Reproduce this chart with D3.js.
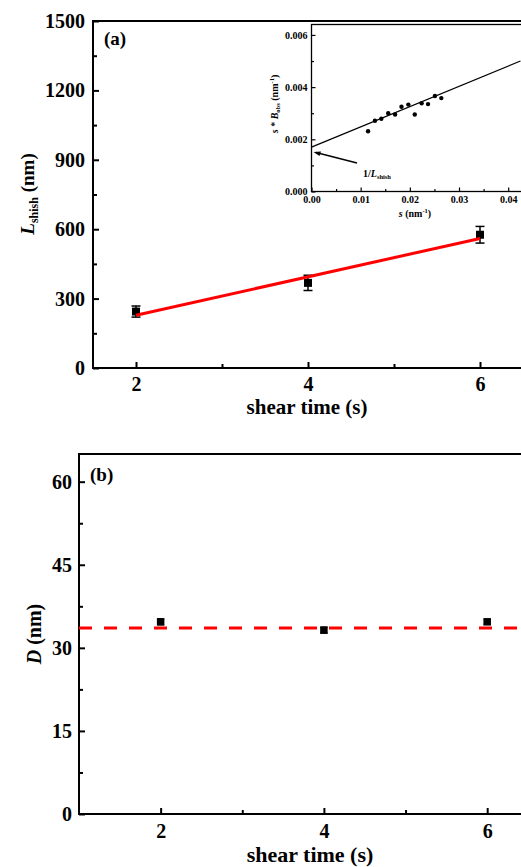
<!DOCTYPE html>
<html>
<head>
<meta charset="utf-8">
<script src="https://cdn.jsdelivr.net/npm/d3@7"></script>
<style>
  body { margin:0; background:#fff; }
  svg { display:block; font-family:"Liberation Serif","Times New Roman",serif; font-weight:bold; }
  .axis path, .axis line { stroke:#000; }
  .axis text { fill:#000; font-family:"Liberation Serif",serif; font-weight:bold; }
</style>
</head>
<body>
<div id="chart"></div>
<script>
// panel (a): shish length vs shear time
var shearTimes = [2, 4, 6]
var lengthVals = [244, 368, 576]
var lengthErr = [24, 33, 36]
var lengthFit = [[2, 228], [6, 560]]

// inset: s * B_obs vs s
var insetS = [0.0115, 0.0129, 0.0142, 0.0156, 0.0170, 0.0183, 0.0197, 0.0210, 0.0224, 0.0237, 0.0251, 0.0264]
var insetB = [0.00231, 0.00271, 0.00279, 0.00300, 0.00295, 0.00325, 0.00333, 0.00295, 0.00338, 0.00335, 0.00366, 0.00358]
var insetFit = [[0, 0.00170], [0.0425, 0.00500]]

// panel (b): long period D
var dVals = [34.7, 33.2, 34.7]
var dErr = [0.5, 0.5, 0.4]
var dMean = 33.6

var yTicksA = [0, 300, 600, 900, 1200, 1500]
var yTicksB = [0, 15, 30, 45, 60]
var insetXTicks = [0, 0.01, 0.02, 0.03, 0.04]
var insetYTicks = [0, 0.002, 0.004, 0.006]

var W = 521, H = 867
var svg = d3.select("#chart").append("svg").attr("width", W).attr("height", H)

function frame(g, x, y, sw) {
  var x0 = x.range()[0], x1 = x.range()[1], y0 = y.range()[0], y1 = y.range()[1]
  g.append("rect").attr("x", x0).attr("y", y1).attr("width", x1 - x0).attr("height", y0 - y1)
    .attr("fill", "none").attr("stroke", "#000").attr("stroke-width", sw)
}

function axes(g, x, y, o) {
  var y0 = y.range()[0], x0 = x.range()[0]
  // minor ticks
  g.append("g").attr("class", "axis").attr("transform", "translate(0," + y0 + ")")
    .call(d3.axisBottom(x).tickValues(o.xMinor).tickFormat("").tickSize(-o.minor).tickSizeOuter(0))
    .call(s => s.select(".domain").remove())
    .selectAll("line").attr("stroke-width", o.sw)
  g.append("g").attr("class", "axis").attr("transform", "translate(" + x0 + ",0)")
    .call(d3.axisLeft(y).tickValues(o.yMinor).tickFormat("").tickSize(-o.minor).tickSizeOuter(0))
    .call(s => s.select(".domain").remove())
    .selectAll("line").attr("stroke-width", o.sw)
  // major ticks
  var xa = g.append("g").attr("class", "axis").attr("transform", "translate(0," + y0 + ")")
    .call(d3.axisBottom(x).tickValues(o.xTicks).tickFormat(o.xFmt).tickSize(-o.major).tickSizeOuter(0).tickPadding(o.xPad))
  xa.select(".domain").remove()
  xa.selectAll("line").attr("stroke-width", o.sw)
  xa.selectAll("text").attr("font-size", o.fs)
  var ya = g.append("g").attr("class", "axis").attr("transform", "translate(" + x0 + ",0)")
    .call(d3.axisLeft(y).tickValues(o.yTicks).tickFormat(o.yFmt).tickSize(-o.major).tickSizeOuter(0).tickPadding(o.yPad))
  ya.select(".domain").remove()
  ya.selectAll("line").attr("stroke-width", o.sw)
  ya.selectAll("text").attr("font-size", o.fs)
}

function errorBars(g, x, y, xs, vals, errs, cap) {
  var eb = g.selectAll(".eb").data(xs).enter().append("g")
  eb.append("line").attr("x1", d => x(d)).attr("x2", d => x(d))
    .attr("y1", (d, i) => y(vals[i] - errs[i])).attr("y2", (d, i) => y(vals[i] + errs[i]))
    .attr("stroke", "#000").attr("stroke-width", 1.5)
  ;[-1, 1].forEach(function(sg) {
    eb.append("line").attr("x1", d => x(d) - cap).attr("x2", d => x(d) + cap)
      .attr("y1", (d, i) => y(vals[i] + sg * errs[i])).attr("y2", (d, i) => y(vals[i] + sg * errs[i]))
      .attr("stroke", "#000").attr("stroke-width", 1.5)
  })
}

function squares(g, x, y, xs, vals, sz) {
  g.selectAll(".sq").data(xs).enter().append("rect")
    .attr("x", d => x(d) - sz / 2).attr("y", (d, i) => y(vals[i]) - sz / 2)
    .attr("width", sz).attr("height", sz).attr("fill", "#000")
}

// ---------- panel (a)
var xa = d3.scaleLinear().domain([1.5, 6.5]).range([93, 523])
var ya = d3.scaleLinear().domain([0, 1500]).range([368, 21])
var ga = svg.append("g")
frame(ga, xa, ya, 2)
axes(ga, xa, ya, {xTicks: shearTimes, xMinor: [3, 5], yTicks: yTicksA, yMinor: [150, 450, 750, 1050, 1350],
  xFmt: d3.format("d"), yFmt: d3.format("d"), major: 6, minor: 4, sw: 2, fs: 20, xPad: 9, yPad: 8})

var line = d3.line().x(d => xa(d[0])).y(d => ya(d[1]))
errorBars(ga, xa, ya, shearTimes, lengthVals, lengthErr, 4.5)
squares(ga, xa, ya, shearTimes, lengthVals, 8)
ga.append("path").datum(lengthFit).attr("d", line).attr("stroke", "#ff0000").attr("stroke-width", 3).attr("fill", "none")

ga.append("text").attr("x", 104).attr("y", 45).attr("font-size", 19).text("(a)")
ga.append("text").attr("x", 307).attr("y", 414).attr("font-size", 21).attr("text-anchor", "middle").text("shear time (s)")
var yla = ga.append("text").attr("transform", "translate(34,194) rotate(-90)").attr("text-anchor", "middle").attr("font-size", 19)
yla.append("tspan").attr("font-style", "italic").text("L")
yla.append("tspan").attr("font-size", 12).attr("dy", 4).text("shish")
yla.append("tspan").attr("dy", -4).text(" (nm)")

// ---------- inset
var xi = d3.scaleLinear().domain([0, 0.0435]).range([311.5, 525.4])
var yi = d3.scaleLinear().domain([0, 0.0064]).range([191.5, 24.5])
var gi = svg.append("g")
gi.append("rect").attr("x", 311.5).attr("y", 24.5).attr("width", 214).attr("height", 167).attr("fill", "#fff")
frame(gi, xi, yi, 1.3)
axes(gi, xi, yi, {xTicks: insetXTicks, xMinor: [0.005, 0.015, 0.025, 0.035], yTicks: insetYTicks, yMinor: [0.001, 0.003, 0.005],
  xFmt: d3.format(".2f"), yFmt: d3.format(".3f"), major: 4, minor: 2.5, sw: 1.2, fs: 10, xPad: 4, yPad: 4})
var iline = d3.line().x(d => xi(d[0])).y(d => yi(d[1]))
gi.append("path").datum(insetFit).attr("d", iline).attr("stroke", "#000").attr("stroke-width", 1.2).attr("fill", "none")
gi.selectAll(".pt").data(insetS).enter().append("circle")
  .attr("cx", d => xi(d)).attr("cy", (d, i) => yi(insetB[i])).attr("r", 2.2).attr("fill", "#000")

// arrow pointing at the intercept
gi.append("line").attr("x1", 357).attr("y1", 163).attr("x2", 316).attr("y2", 152.5)
  .attr("stroke", "#000").attr("stroke-width", 1.3)
gi.append("path").attr("d", "M313.5,152 L321,151.5 L319.5,156 Z").attr("fill", "#000")
var al = gi.append("text").attr("x", 363).attr("y", 177).attr("font-size", 10)
al.append("tspan").text("1/")
al.append("tspan").attr("font-style", "italic").text("L")
al.append("tspan").attr("font-size", 6.5).attr("dy", 2).text("shish")

var xl = gi.append("text").attr("x", 415).attr("y", 217).attr("font-size", 10).attr("text-anchor", "middle")
xl.append("tspan").attr("font-style", "italic").text("s")
xl.append("tspan").text(" (nm")
xl.append("tspan").attr("font-size", 6.5).attr("dy", -4).text("-1")
xl.append("tspan").attr("dy", 4).text(")")
var yl = gi.append("text").attr("transform", "translate(278,104) rotate(-90)").attr("font-size", 10).attr("text-anchor", "middle")
yl.append("tspan").attr("font-style", "italic").text("s")
yl.append("tspan").text(" * ")
yl.append("tspan").attr("font-style", "italic").text("B")
yl.append("tspan").attr("font-size", 6.5).attr("dy", 2).text("obs")
yl.append("tspan").attr("dy", -2).text(" (nm")
yl.append("tspan").attr("font-size", 6.5).attr("dy", -4).text("-1")
yl.append("tspan").attr("dy", 4).text(")")

// ---------- panel (b)
var xb = d3.scaleLinear().domain([1, 6.5]).range([79, 528])
var yb = d3.scaleLinear().domain([0, 65]).range([814, 454])
var gb = svg.append("g")
frame(gb, xb, yb, 2)
axes(gb, xb, yb, {xTicks: shearTimes, xMinor: [3, 5], yTicks: yTicksB, yMinor: [7.5, 22.5, 37.5, 52.5],
  xFmt: d3.format("d"), yFmt: d3.format("d"), major: 6, minor: 4, sw: 2, fs: 20, xPad: 10, yPad: 7})
gb.append("line").attr("x1", xb(1)).attr("x2", xb(6.5)).attr("y1", yb(dMean)).attr("y2", yb(dMean))
  .attr("stroke", "#ff0000").attr("stroke-width", 3).attr("stroke-dasharray", "13,12")
errorBars(gb, xb, yb, shearTimes, dVals, dErr, 3.5)
squares(gb, xb, yb, shearTimes, dVals, 7.5)

gb.append("text").attr("x", 90).attr("y", 481).attr("font-size", 19).text("(b)")
gb.append("text").attr("x", 310).attr("y", 862).attr("font-size", 22).attr("text-anchor", "middle").text("shear time (s)")
var ylb = gb.append("text").attr("transform", "translate(41,634) rotate(-90)").attr("text-anchor", "middle").attr("font-size", 20)
ylb.append("tspan").attr("font-style", "italic").text("D")
ylb.append("tspan").text(" (nm)")
</script>
</body>
</html>
